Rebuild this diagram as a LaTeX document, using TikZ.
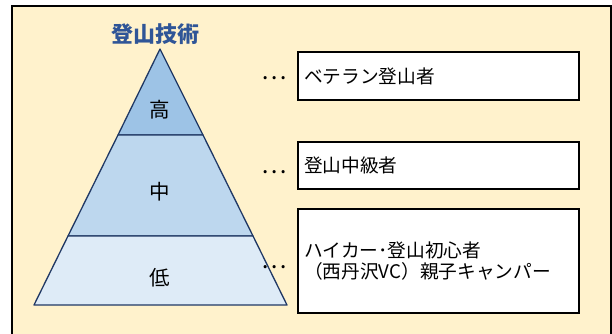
\documentclass[tikz,border=0pt]{standalone}
\usepackage{fontspec}
\setmainfont{Noto Sans CJK JP}
\usepackage{tikz}
\usetikzlibrary{calc}
\definecolor{paper}{HTML}{FFF2CC}
\definecolor{tridark}{HTML}{203864}
\definecolor{titleblue}{HTML}{2F5597}
\definecolor{lvhigh}{HTML}{9DC3E6}
\definecolor{lvmid}{HTML}{BDD7EE}
\definecolor{lvlow}{HTML}{DEEBF7}
\tikzset{level/.style = {draw=tridark,line width=1.3pt,line join=round}}
\tikzset{rank/.style = {font=\fontsize{20.5}{21}\selectfont}}
\tikzset{member/.style = {draw=black,line width=1.4pt,fill=white,minimum width=281pt,
  minimum height=48pt,text width=269pt,inner xsep=6pt,inner ysep=0pt,align=left,
  font=\fontsize{18.7}{21}\selectfont}}
\tikzset{etc/.style = {font=\fontsize{24}{24}\selectfont,inner sep=0pt}}

\begin{document}
\begin{tikzpicture}[x=1pt,y=-1pt]
                \useasboundingbox (0,0) rectangle (612,334);
                \draw[fill=paper,line width=1.6pt] (12,6) rectangle (611,350);
                \node[font=\fontsize{22}{22}\selectfont\bfseries,text=titleblue] (title) at (155,34) {登山技術};
                % pyramid
                \coordinate (apex) at (160,49);
                \coordinate (tl) at (118,135);
                \coordinate (tr) at (203,135);
                \coordinate (ml) at (68,236);
                \coordinate (mr) at (253,236);
                \coordinate (bl) at (34,305);
                \coordinate (br) at (287,305);
                \draw[level,fill=lvhigh] (apex) -- (tr) -- (tl) -- cycle;
                \draw[level,fill=lvmid] (tl) -- (tr) -- (mr) -- (ml) -- cycle;
                \draw[level,fill=lvlow] (ml) -- (mr) -- (br) -- (bl) -- cycle;
                \node[rank] (high) at (160,110) {高};
                \node[rank] (mid) at (160,192) {中};
                \node[rank] (low) at (160,278) {低};
                % groups
                \node[member] (veteran) at (438.5,76) {ベテラン登山者};
                \node[member,minimum height=47pt] (middle) at (438.5,165.5) {登山中級者};
                \node[member,minimum height=104pt] (beginner) at (438.5,261) {ハイカー･登山初心者\\（西丹沢VC）親子キャンパー};
                \node[etc] (d1) at (274,78) {…};
                \node[etc] (d2) at (274,172) {…};
                \node[etc] (d3) at (274,267) {…};
            \end{tikzpicture}
\end{document}
